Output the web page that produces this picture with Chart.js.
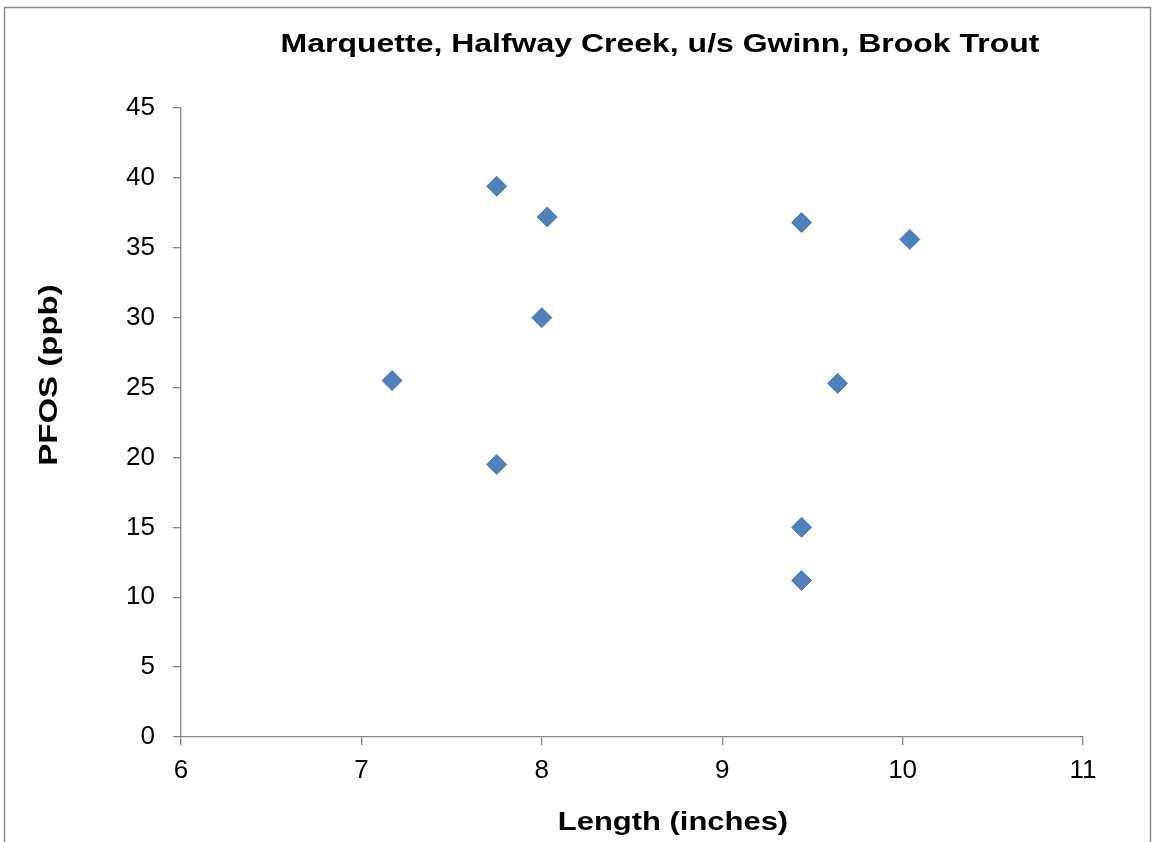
<!DOCTYPE html>
<html>
<head>
<meta charset="utf-8">
<script src="https://cdn.jsdelivr.net/npm/chart.js@4.4.0/dist/chart.umd.min.js"></script>
<style>
  html, body { margin: 0; padding: 0; background: #fff; }
  #wrap { width: 1156px; height: 842px; position: relative; }
</style>
</head>
<body>
<div id="wrap"><canvas id="chartPfos"></canvas></div>
<script>
/* datos */
const longitudes = [7.17, 7.75, 7.75, 8.03, 8.0, 9.44, 9.44, 9.44, 9.64, 10.04];
const pfos = [25.5, 39.4, 19.5, 37.2, 30.0, 36.8, 15.0, 11.2, 25.3, 35.6];

const tituloGrafica = "Marquette, Halfway Creek, u/s Gwinn, Brook Trout";
const tituloX = "Length (inches)";
const tituloY = "PFOS (ppb)";

const fuente = "'Liberation Sans', Arial, sans-serif";
const gris = "#868686";

/* texto en negrita un poco ensanchado, como en el original */
const textoAncho = (ctx, texto, x, y, ancho, rot) => {
  ctx.save();
  ctx.translate(x, y);
  if (rot) ctx.rotate(rot);
  ctx.scale(ancho, 1);
  ctx.fillText(texto, 0, 0);
  ctx.restore();
};

/* marco y textos de titulos */
const textosPlugin = {
  id: "textos",
  beforeDraw(chart) {
    const ctx = chart.ctx;
    ctx.save();
    ctx.fillStyle = "#fff";
    ctx.fillRect(0, 0, chart.width, chart.height);
    ctx.strokeStyle = "#8c8c8c";
    ctx.lineWidth = 1.5;
    ctx.strokeRect(4.5, 7.5, 1146, 900);
    ctx.restore();
  },
  afterDraw(chart) {
    const ctx = chart.ctx;
    ctx.save();
    ctx.fillStyle = "#000";
    ctx.textAlign = "center";
    ctx.textBaseline = "alphabetic";

    ctx.font = "bold 26px " + fuente;
    textoAncho(ctx, tituloGrafica, 660, 52, 1.23, 0);
    textoAncho(ctx, tituloX, 673, 830, 1.19, 0);
    textoAncho(ctx, tituloY, 57, 375, 1.27, -Math.PI / 2);
    ctx.restore();
  },
};

const context = document.getElementById("chartPfos").getContext("2d");

const chartPfos = new Chart(context, {
  type: "scatter",
  data: {
    datasets: [
      {
        label: "PFOS",
        data: longitudes.map((x, i) => ({ x: x, y: pfos[i] })),
        backgroundColor: "#4F81BD",
        borderColor: "#4A7EBB",
        borderWidth: 1,
        pointStyle: "rectRot",
        pointRadius: 10,
        pointHoverRadius: 10,
      },
    ],
  },
  options: {
    responsive: true,
    maintainAspectRatio: false,
    animation: false,
    layout: { padding: { left: 0, top: 108, right: 73, bottom: 0 } },
    plugins: {
      legend: { display: false },
      tooltip: { enabled: false },
    },
    scales: {
      x: {
        type: "linear",
        min: 6,
        max: 11,
        ticks: { stepSize: 1, color: "#000", font: { family: fuente, size: 26 }, padding: 10 },
        grid: { drawOnChartArea: false, color: gris, tickLength: 8, lineWidth: 1.3 },
        border: { color: gris, width: 1.3 },
        afterFit: (scale) => { scale.height = 105; },
      },
      y: {
        min: 0,
        max: 45,
        ticks: { stepSize: 5, color: "#000", font: { family: fuente, size: 26 }, padding: 18 },
        grid: { drawOnChartArea: false, color: gris, tickLength: 8, lineWidth: 1.3 },
        border: { color: gris, width: 1.3 },
        afterFit: (scale) => { scale.width = 181; },
      },
    },
  },
  plugins: [textosPlugin],
});
</script>
</body>
</html>
